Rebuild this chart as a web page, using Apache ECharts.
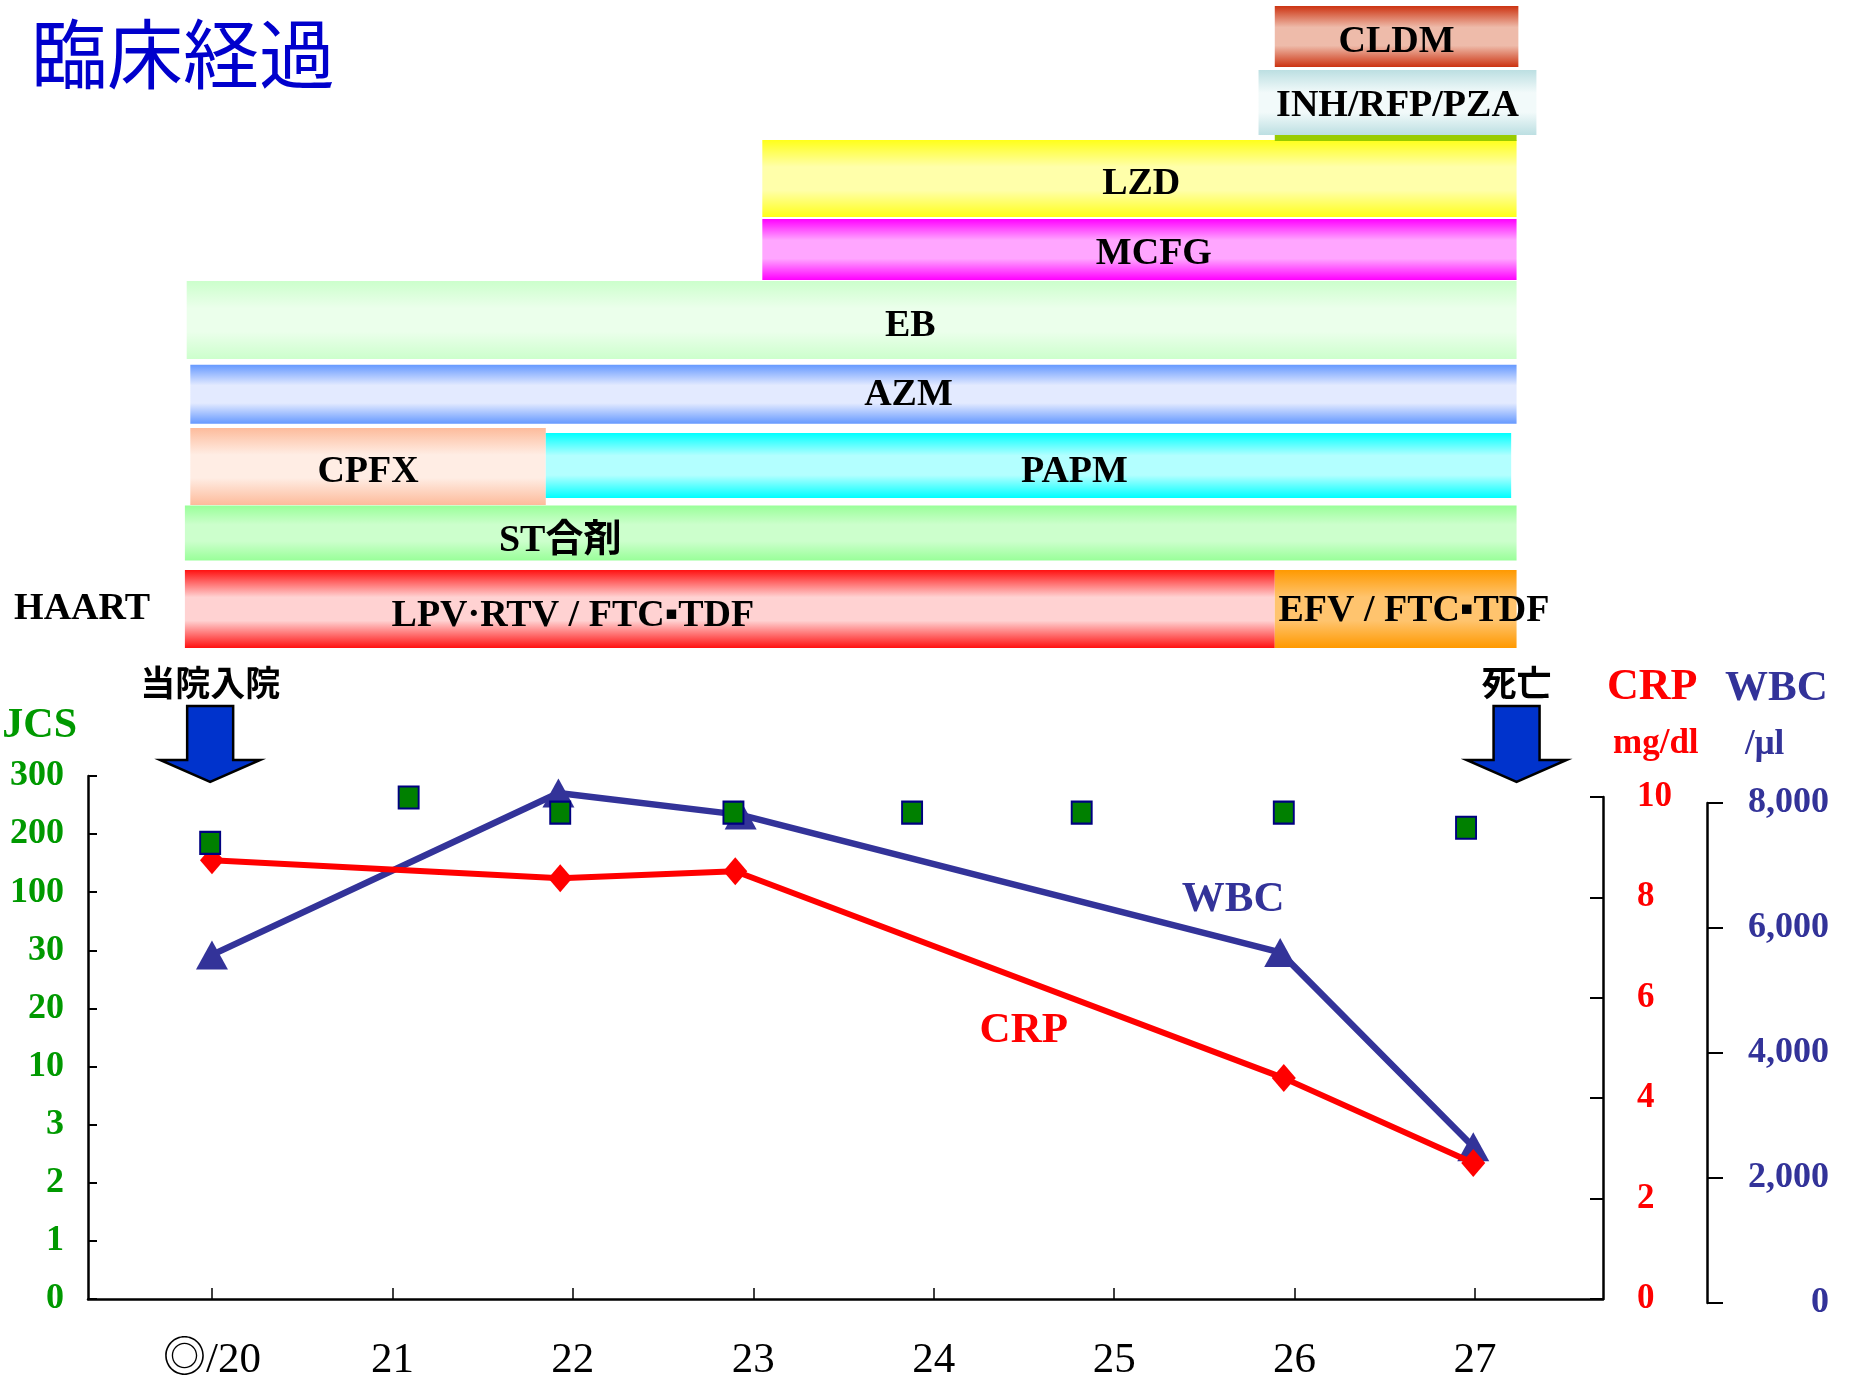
<!DOCTYPE html>
<html>
<head>
<meta charset="utf-8">
<title>臨床経過</title>
<script src="https://cdn.jsdelivr.net/npm/echarts@6/dist/echarts.min.js"></script>
<style>
    html, body { margin: 0; padding: 0; background: #fff; }
    #chart { width: 1857px; height: 1381px; }
</style>
</head>
<body>
<div id="chart"></div>
<script>
    // x axis: hospital days
    var days = [20, 21, 22, 23, 24, 25, 26, 27];
    var dayLabels = ['◎/20', '21', '22', '23', '24', '25', '26', '27'];

    // JCS, plotted on an ordinal scale (index into jcsTicks)
    var jcsTicks = ['0', '1', '2', '3', '10', '20', '30', '100', '200', '300'];
    var jcsDays = [19.99, 21.09, 21.93, 22.89, 23.88, 24.82, 25.94, 26.95];
    var jcsLevel = [7.85, 8.63, 8.37, 8.37, 8.37, 8.37, 8.37, 8.11];

    // CRP mg/dl
    var crpDays = [20.0, 21.93, 22.9, 25.94, 26.99];
    var crpValues = [8.74, 8.38, 8.52, 4.4, 2.71];

    // WBC /μl
    var wbcDays = [20.0, 21.92, 22.93, 25.92, 26.99];
    var wbcValues = [5570, 8160, 7810, 5610, 2500];

    // medication periods (rows from top)
    var drugNames = ['LZD', '', 'INH/RFP/PZA', 'CLDM', 'MCFG', 'EB', 'AZM', 'CPFX', 'PAPM', 'ST合剤', 'LPV·RTV / FTC▪TDF', 'EFV / FTC▪TDF'];
    var drugStart = [23.05, 25.89, 25.80, 25.89, 23.05, 19.86, 19.88, 19.88, 21.85, 19.85, 19.85, 25.89];
    var drugEnd   = [27.23, 27.23, 27.34, 27.24, 27.23, 27.23, 27.23, 21.85, 27.20, 27.23, 25.89, 27.23];
    var drugRow   = [2, 1, 1, 0, 3, 4, 5, 6, 6, 7, 8, 8];
    var rowLabels = ['', '', '', '', '', '', '', '', 'HAART'];

    // admission / death
    var eventDays = [19.99, 27.23];
    var eventLabels = ['当院入院', '死亡'];

    var serif = "'Liberation Serif', 'Times New Roman', 'Noto Sans CJK JP', serif";
    var xMin = 19.313, xMax = 27.709;

    // looks of each medication bar, same order as drugNames
    var barStyles = [
        {edge: '#FFFF1A', mid: '#FFFFAA', h: 77, dy: -1, labelAt: 25.15, labelDy: 6},
        {edge: '#99CC00', flat: true, h: 6, dy: 30},
        {edge: '#BCDFE2', mid: '#F2FAFA', h: 65, dy: -5.5, labelDy: 4},
        {edge: '#CC3311', mid: '#EEBBAA', h: 61, dy: 0, labelDy: 6},
        {edge: '#FF00FF', mid: '#FFA6FF', h: 61, dy: -1.7, labelAt: 25.22, labelDy: 5},
        {edge: '#CCFFCC', mid: '#EBFFEB', h: 78, dy: -2.7, labelAt: 23.87, labelDy: 6.5},
        {edge: '#6699FF', mid: '#E3EAFF', h: 59, dy: 0, labelAt: 23.86, labelDy: 1},
        {edge: '#FDBB9B', mid: '#FFEDE4', h: 77, dy: 0.6, labelDy: 6},
        {edge: '#00FFFF', mid: '#B3FFFF', h: 65, dy: -0.4, labelAt: 24.78, labelDy: 7},
        {edge: '#99FF99', mid: '#CCFFCC', h: 55, dy: -4.4, labelAt: 21.93, labelDy: 8.5},
        {edge: '#FF1111', mid: '#FFD2D2', h: 78, dy: 0, labelAt: 22.0, labelDy: 7.5},
        {edge: '#FF9900', mid: '#FFC46E', h: 78, dy: 0, labelAt: 25.91, labelDy: 2.5, align: 'left'}
    ];

    function zip(a, b) {
        return a.map(function (v, i) { return [v, b[i]]; });
    }

    function renderDrug(params, api) {
        var i = params.dataIndex;
        var st = barStyles[i];
        var p0 = api.coord([api.value(0), api.value(2)]);
        var p1 = api.coord([api.value(1), api.value(2)]);
        var cy = p0[1] + st.dy;
        var fill = st.flat ? st.edge : new echarts.graphic.LinearGradient(0, 0, 0, 1, [
            {offset: 0, color: st.edge},
            {offset: 0.35, color: st.mid},
            {offset: 0.65, color: st.mid},
            {offset: 1, color: st.edge}
        ]);
        var children = [{
            type: 'rect',
            shape: {x: p0[0], y: cy - st.h / 2, width: p1[0] - p0[0], height: st.h},
            style: {fill: fill}
        }];
        if (drugNames[i]) {
            var lx = st.labelAt != null ? api.coord([st.labelAt, 0])[0] : (p0[0] + p1[0]) / 2;
            children.push({
                type: 'text',
                x: lx,
                y: cy + st.labelDy,
                z2: 10,
                style: {
                    text: drugNames[i],
                    font: 'bold 38px ' + serif,
                    fill: '#000',
                    align: st.align || 'center',
                    verticalAlign: 'middle'
                }
            });
        }
        return {type: 'group', children: children};
    }

    function renderEvent(params, api) {
        var x = api.coord([api.value(0), 0])[0];
        var top = params.coordSys.y;
        return {
            type: 'group',
            children: [{
                type: 'polygon',
                shape: {points: [
                    [x - 23, top - 70], [x + 23, top - 70], [x + 23, top - 16], [x + 50, top - 16],
                    [x, top + 6], [x - 50, top - 16], [x - 23, top - 16]
                ]},
                style: {fill: '#0033CC', stroke: '#000', lineWidth: 2.5}
            }, {
                type: 'text',
                x: x,
                y: top - 93,
                style: {
                    text: eventLabels[params.dataIndex],
                    font: 'bold 35px "Noto Sans CJK JP"',
                    fill: '#000',
                    align: 'center',
                    verticalAlign: 'middle'
                }
            }]
        };
    }

    var hidden = {show: false};
    function hiddenX(grid) {
        return {type: 'value', gridIndex: grid, min: xMin, max: xMax, show: false};
    }

    var myChart = echarts.init(document.getElementById('chart'));
    var option = {
        animation: false,
        backgroundColor: '#fff',
        title: {
            text: '臨床経過',
            left: 31,
            top: 16,
            padding: 0,
            textStyle: {fontFamily: 'Noto Sans CJK JP', fontSize: 76, fontWeight: 'normal', color: '#0000CC'}
        },
        grid: [
            {left: 88, width: 1515, top: 0.7, height: 644, outerBoundsMode: 'none'},
            {left: 88, width: 1515, top: 776, height: 523, outerBoundsMode: 'none'},
            {left: 88, width: 1515, top: 797, height: 502, outerBoundsMode: 'none'},
            {left: 88, width: 1515, top: 803, height: 500, outerBoundsMode: 'none'}
        ],
        xAxis: [
            hiddenX(0),
            {
                type: 'value',
                gridIndex: 1,
                min: xMin,
                max: xMax,
                splitLine: hidden,
                axisLine: {lineStyle: {color: '#000', width: 2.5}},
                axisTick: {inside: true, length: 11, customValues: days, lineStyle: {color: '#000', width: 1.5}},
                axisLabel: {
                    customValues: days,
                    margin: 40,
                    color: '#000',
                    fontFamily: serif,
                    fontSize: 43,
                    formatter: function (v) { return dayLabels[days.indexOf(Math.round(v))]; }
                }
            },
            hiddenX(2),
            hiddenX(3)
        ],
        yAxis: [
            {
                type: 'category',
                gridIndex: 0,
                inverse: true,
                data: rowLabels,
                axisLine: hidden,
                axisTick: hidden,
                splitLine: hidden,
                axisLabel: {margin: -62, color: '#000', fontFamily: serif, fontSize: 38, fontWeight: 'bold', padding: [4, 0, 0, 0]}
            },
            {
                type: 'value',
                gridIndex: 1,
                min: 0,
                max: 9,
                interval: 1,
                name: 'JCS',
                nameLocation: 'end',
                nameGap: 29,
                nameTextStyle: {
                    color: '#009900', fontFamily: serif, fontSize: 42, fontWeight: 'bold',
                    align: 'right', verticalAlign: 'bottom', lineHeight: 42, padding: [0, 11, 0, 0]
                },
                splitLine: hidden,
                axisLine: {show: true, lineStyle: {color: '#000', width: 2.5}},
                axisTick: {show: true, inside: true, length: 9, lineStyle: {color: '#000', width: 2}},
                axisLabel: {
                    margin: 24, color: '#009900', fontFamily: serif, fontSize: 36, fontWeight: 'bold',
                    padding: [3, 0, 0, 0],
                    formatter: function (v) { return jcsTicks[v]; }
                }
            },
            {
                type: 'value',
                gridIndex: 2,
                position: 'right',
                min: 0,
                max: 10,
                interval: 2,
                name: '{a|CRP}\n{b|mg/dl}',
                nameLocation: 'end',
                nameGap: 25,
                nameTextStyle: {
                    align: 'left', verticalAlign: 'bottom', padding: [0, 0, 0, 4],
                    rich: {
                        a: {color: '#FF0000', fontFamily: serif, fontSize: 44, fontWeight: 'bold', lineHeight: 56},
                        b: {color: '#FF0000', fontFamily: serif, fontSize: 35, fontWeight: 'bold', lineHeight: 56, padding: [0, 0, 0, 6]}
                    }
                },
                splitLine: hidden,
                axisLine: {show: true, lineStyle: {color: '#000', width: 2.5}},
                axisTick: {show: true, inside: true, length: 13, lineStyle: {color: '#000', width: 2}},
                axisLabel: {margin: 34, color: '#FF0000', fontFamily: serif, fontSize: 35, fontWeight: 'bold', padding: [5, 0, 0, 0]}
            },
            {
                type: 'value',
                gridIndex: 3,
                position: 'right',
                offset: 104,
                min: 0,
                max: 8000,
                interval: 2000,
                name: '{a|WBC}\n{b|/μl}',
                nameLocation: 'end',
                nameGap: 30,
                nameTextStyle: {
                    align: 'left', verticalAlign: 'bottom', padding: [0, 0, 0, 18],
                    rich: {
                        a: {color: '#333399', fontFamily: serif, fontSize: 43, fontWeight: 'bold', lineHeight: 56},
                        b: {color: '#333399', fontFamily: serif, fontSize: 35, fontWeight: 'bold', lineHeight: 56, padding: [0, 0, 0, 20]}
                    }
                },
                splitLine: hidden,
                axisLine: {show: true, lineStyle: {color: '#000', width: 2.5}},
                axisTick: {show: true, inside: false, length: 16, lineStyle: {color: '#000', width: 2}},
                axisLabel: {
                    margin: 122, align: 'right', color: '#333399', fontFamily: serif, fontSize: 36, fontWeight: 'bold',
                    formatter: function (v) { return v === 0 ? '0' : (v / 1000) + ',000'; }
                }
            }
        ],
        series: [
            {
                name: 'drugs',
                type: 'custom',
                xAxisIndex: 0,
                yAxisIndex: 0,
                renderItem: renderDrug,
                encode: {x: [0, 1], y: 2},
                data: drugNames.map(function (n, i) { return [drugStart[i], drugEnd[i], drugRow[i]]; }),
                z: 1
            },
            {
                name: 'events',
                type: 'custom',
                xAxisIndex: 1,
                yAxisIndex: 1,
                renderItem: renderEvent,
                data: eventDays.map(function (d) { return [d, 0]; }),
                z: 5
            },
            {
                name: 'WBC',
                type: 'line',
                xAxisIndex: 3,
                yAxisIndex: 3,
                clip: false,
                symbol: 'triangle',
                symbolSize: [32, 29],
                lineStyle: {color: '#333399', width: 6.5},
                itemStyle: {color: '#333399'},
                data: zip(wbcDays, wbcValues).map(function (p, i) {
                    if (i !== 3) return p;
                    return {
                        value: p,
                        label: {
                            show: true, position: 'inside', offset: [-47, -52], formatter: 'WBC',
                            color: '#333399', fontFamily: serif, fontSize: 43, fontWeight: 'bold'
                        }
                    };
                }),
                z: 3
            },
            {
                name: 'CRP',
                type: 'line',
                xAxisIndex: 2,
                yAxisIndex: 2,
                clip: false,
                symbol: 'diamond',
                symbolSize: [24, 28],
                lineStyle: {color: '#FF0000', width: 6},
                itemStyle: {color: '#FF0000'},
                data: zip(crpDays, crpValues).map(function (p, i) {
                    if (i !== 3) return p;
                    return {
                        value: p,
                        label: {
                            show: true, position: 'inside', offset: [-260, -47], formatter: 'CRP',
                            color: '#FF0000', fontFamily: serif, fontSize: 43, fontWeight: 'bold'
                        }
                    };
                }),
                z: 4
            },
            {
                name: 'JCS',
                type: 'scatter',
                xAxisIndex: 1,
                yAxisIndex: 1,
                symbol: 'rect',
                symbolSize: [20, 22],
                itemStyle: {color: '#008000', borderColor: '#000080', borderWidth: 2, opacity: 1},
                data: zip(jcsDays, jcsLevel),
                z: 6
            }
        ]
    };
    myChart.setOption(option);
</script>
</body>
</html>
